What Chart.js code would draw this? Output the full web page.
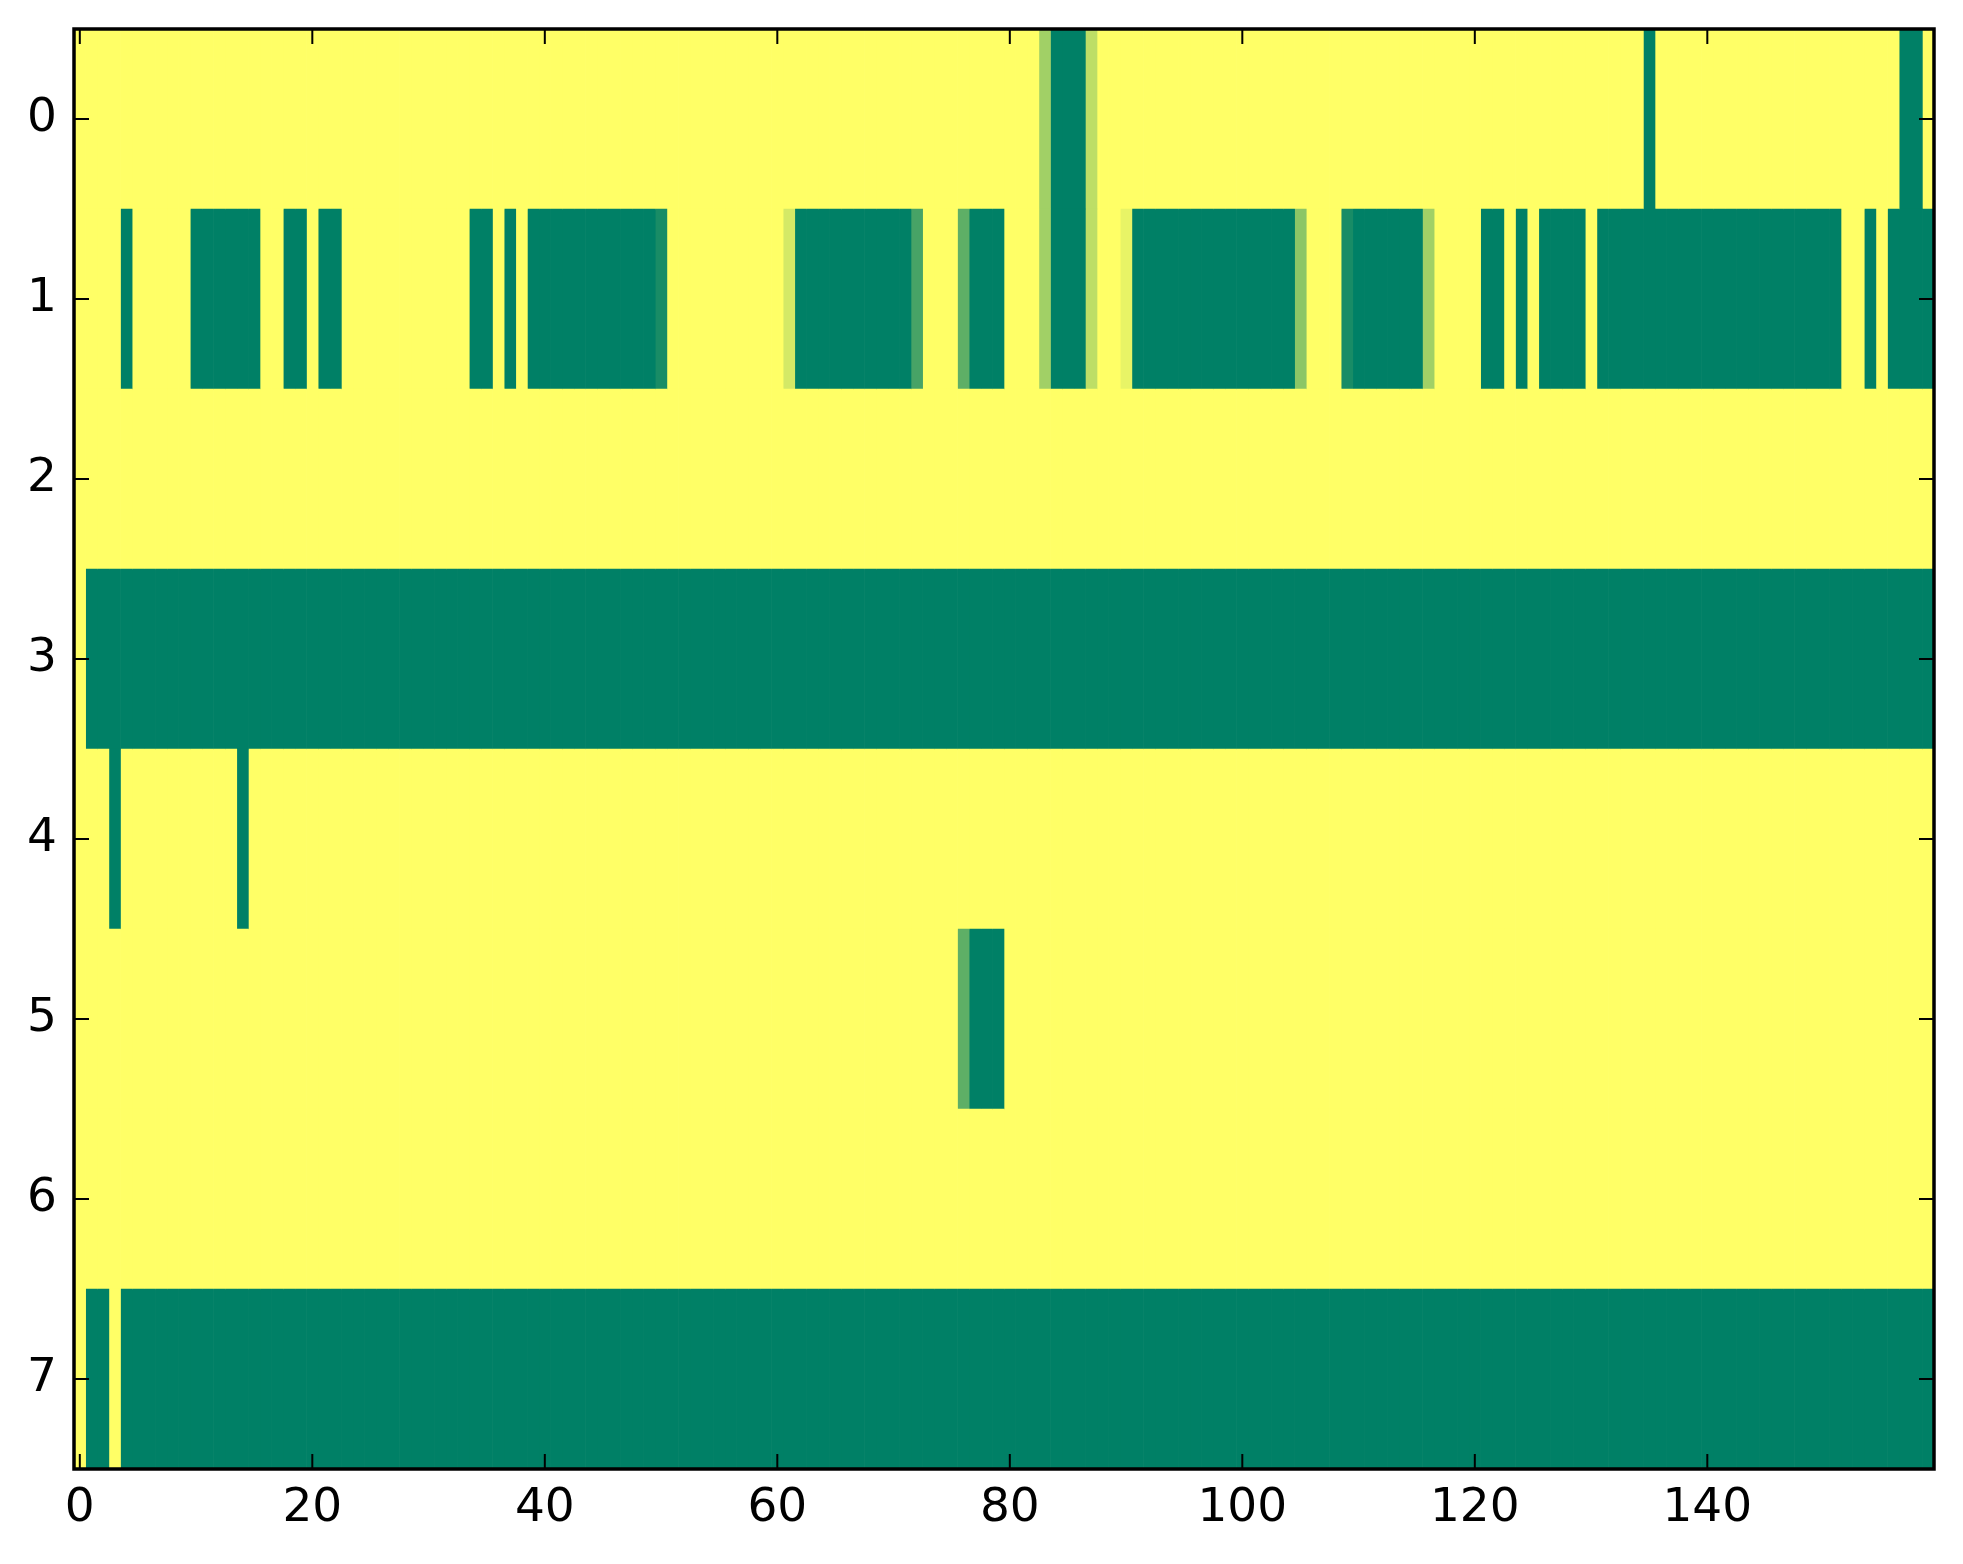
<!DOCTYPE html>
<html><head><meta charset="utf-8">
<script src="https://cdn.jsdelivr.net/npm/chart.js@4.4.1/dist/chart.umd.min.js"></script>
<style>html,body{margin:0;padding:0;background:#fff;}canvas{display:block;}</style>
</head><body>
<canvas id="c" width="1963" height="1564" style="width:1963px;height:1564px"></canvas>
<script>
// Row labels (y axis) and x tick labels
const rowLabels = ['0','1','2','3','4','5','6','7'];
const xTicks = [0,20,40,60,80,100,120,140];

// Cell values per row (160 columns, 0..159)
const row0 = [
0,0,0,0,0,0,0,0,0,0, 0,0,0,0,0,0,0,0,0,0,
0,0,0,0,0,0,0,0,0,0, 0,0,0,0,0,0,0,0,0,0,
0,0,0,0,0,0,0,0,0,0, 0,0,0,0,0,0,0,0,0,0,
0,0,0,0,0,0,0,0,0,0, 0,0,0,0,0,0,0,0,0,0,
0,0,0,0.37,1,1,1,0.26,0,0, 0,0,0,0,0,0,0,0,0,0,
0,0,0,0,0,0,0,0,0,0, 0,0,0,0,0,0,0,0,0,0,
0,0,0,0,0,0,0,0,0,0, 0,0,0,0,0,1,0,0,0,0,
0,0,0,0,0,0,0,0,0,0, 0,0,0,0,0,0,0,1,1,0];
const row1 = [
0,0,0,0,1,0,0,0,0,0, 1,1,1,1,1,1,0,0,1,1,
0,1,1,0,0,0,0,0,0,0, 0,0,0,0,1,1,0,1,0,1,
1,1,1,1,1,1,1,1,1,1, 0.9,0,0,0,0,0,0,0,0,0,
0,0.17,1,1,1,1,1,1,1,1, 1,1,0.72,0,0,0,0.63,1,1,1,
0,0,0,0.37,1,1,1,0.26,0,0, 0.09,1,1,1,1,1,1,1,1,1,
1,1,1,1,1,0.45,0,0,0,0.9, 1,1,1,1,1,1,0.37,0,0,0,
0,1,1,0,1,0,1,1,1,1, 0,1,1,1,1,1,1,1,1,1,
1,1,1,1,1,1,1,1,1,1, 1,1,0,0,1,0,1,1,1,1];
const row2 = [
0,0,0,0,0,0,0,0,0,0, 0,0,0,0,0,0,0,0,0,0,
0,0,0,0,0,0,0,0,0,0, 0,0,0,0,0,0,0,0,0,0,
0,0,0,0,0,0,0,0,0,0, 0,0,0,0,0,0,0,0,0,0,
0,0,0,0,0,0,0,0,0,0, 0,0,0,0,0,0,0,0,0,0,
0,0,0,0,0,0,0,0,0,0, 0,0,0,0,0,0,0,0,0,0,
0,0,0,0,0,0,0,0,0,0, 0,0,0,0,0,0,0,0,0,0,
0,0,0,0,0,0,0,0,0,0, 0,0,0,0,0,0,0,0,0,0,
0,0,0,0,0,0,0,0,0,0, 0,0,0,0,0,0,0,0,0,0];
const row3 = [
0,1,1,1,1,1,1,1,1,1, 1,1,1,1,1,1,1,1,1,1,
1,1,1,1,1,1,1,1,1,1, 1,1,1,1,1,1,1,1,1,1,
1,1,1,1,1,1,1,1,1,1, 1,1,1,1,1,1,1,1,1,1,
1,1,1,1,1,1,1,1,1,1, 1,1,1,1,1,1,1,1,1,1,
1,1,1,1,1,1,1,1,1,1, 1,1,1,1,1,1,1,1,1,1,
1,1,1,1,1,1,1,1,1,1, 1,1,1,1,1,1,1,1,1,1,
1,1,1,1,1,1,1,1,1,1, 1,1,1,1,1,1,1,1,1,1,
1,1,1,1,1,1,1,1,1,1, 1,1,1,1,1,1,1,1,1,1];
const row4 = [
0,0,0,1,0,0,0,0,0,0, 0,0,0,0,1,0,0,0,0,0,
0,0,0,0,0,0,0,0,0,0, 0,0,0,0,0,0,0,0,0,0,
0,0,0,0,0,0,0,0,0,0, 0,0,0,0,0,0,0,0,0,0,
0,0,0,0,0,0,0,0,0,0, 0,0,0,0,0,0,0,0,0,0,
0,0,0,0,0,0,0,0,0,0, 0,0,0,0,0,0,0,0,0,0,
0,0,0,0,0,0,0,0,0,0, 0,0,0,0,0,0,0,0,0,0,
0,0,0,0,0,0,0,0,0,0, 0,0,0,0,0,0,0,0,0,0,
0,0,0,0,0,0,0,0,0,0, 0,0,0,0,0,0,0,0,0,0];
const row5 = [
0,0,0,0,0,0,0,0,0,0, 0,0,0,0,0,0,0,0,0,0,
0,0,0,0,0,0,0,0,0,0, 0,0,0,0,0,0,0,0,0,0,
0,0,0,0,0,0,0,0,0,0, 0,0,0,0,0,0,0,0,0,0,
0,0,0,0,0,0,0,0,0,0, 0,0,0,0,0,0,0.63,1,1,1,
0,0,0,0,0,0,0,0,0,0, 0,0,0,0,0,0,0,0,0,0,
0,0,0,0,0,0,0,0,0,0, 0,0,0,0,0,0,0,0,0,0,
0,0,0,0,0,0,0,0,0,0, 0,0,0,0,0,0,0,0,0,0,
0,0,0,0,0,0,0,0,0,0, 0,0,0,0,0,0,0,0,0,0];
const row6 = [
0,0,0,0,0,0,0,0,0,0, 0,0,0,0,0,0,0,0,0,0,
0,0,0,0,0,0,0,0,0,0, 0,0,0,0,0,0,0,0,0,0,
0,0,0,0,0,0,0,0,0,0, 0,0,0,0,0,0,0,0,0,0,
0,0,0,0,0,0,0,0,0,0, 0,0,0,0,0,0,0,0,0,0,
0,0,0,0,0,0,0,0,0,0, 0,0,0,0,0,0,0,0,0,0,
0,0,0,0,0,0,0,0,0,0, 0,0,0,0,0,0,0,0,0,0,
0,0,0,0,0,0,0,0,0,0, 0,0,0,0,0,0,0,0,0,0,
0,0,0,0,0,0,0,0,0,0, 0,0,0,0,0,0,0,0,0,0];
const row7 = [
0,1,1,0,1,1,1,1,1,1, 1,1,1,1,1,1,1,1,1,1,
1,1,1,1,1,1,1,1,1,1, 1,1,1,1,1,1,1,1,1,1,
1,1,1,1,1,1,1,1,1,1, 1,1,1,1,1,1,1,1,1,1,
1,1,1,1,1,1,1,1,1,1, 1,1,1,1,1,1,1,1,1,1,
1,1,1,1,1,1,1,1,1,1, 1,1,1,1,1,1,1,1,1,1,
1,1,1,1,1,1,1,1,1,1, 1,1,1,1,1,1,1,1,1,1,
1,1,1,1,1,1,1,1,1,1, 1,1,1,1,1,1,1,1,1,1,
1,1,1,1,1,1,1,1,1,1, 1,1,1,1,1,1,1,1,1,1];

const rows = [row0,row1,row2,row3,row4,row5,row6,row7];
const nCols = row0.length;

// summer_r colormap: 0 -> yellow, 1 -> dark green
function summerR(v){
  const t = 1 - v;
  const r = Math.round(255*t), g = Math.round(255*(0.5+0.5*t)), b = Math.round(255*0.4);
  return 'rgb('+r+','+g+','+b+')';
}

const datasets = [];
for (let j = 0; j < nCols; j++) {
  datasets.push({
    data: rows.map(() => [j - 0.5, j + 0.5]),
    backgroundColor: rows.map(r => summerR(r[j])),
    borderWidth: 0
  });
}

const frameTicks = {
  id: 'frameTicks',
  afterDraw(chart) {
    const {ctx, chartArea: a, scales: {x, y}} = chart;
    ctx.save();
    ctx.strokeStyle = '#000';
    ctx.lineWidth = 2;
    const L = 15;
    ctx.beginPath();
    x.ticks.forEach(t => {
      const px = x.getPixelForValue(t.value);
      ctx.moveTo(px, a.bottom); ctx.lineTo(px, a.bottom - L);
      ctx.moveTo(px, a.top); ctx.lineTo(px, a.top + L);
    });
    y.ticks.forEach((t, i) => {
      const py = y.getPixelForTick(i);
      ctx.moveTo(a.left, py); ctx.lineTo(a.left + L, py);
      ctx.moveTo(a.right, py); ctx.lineTo(a.right - L, py);
    });
    ctx.stroke();
    ctx.lineWidth = 3.5;
    ctx.strokeRect(a.left, a.top, a.right - a.left, a.bottom - a.top);
    ctx.restore();
  }
};

const font = {family: 'DejaVu Sans', size: 47};

new Chart(document.getElementById('c'), {
  type: 'bar',
  data: {labels: rowLabels, datasets},
  options: {
    responsive: false,
    animation: false,
    devicePixelRatio: 1,
    indexAxis: 'y',
    layout: {padding: {top: 29, right: 29, left: 0, bottom: 0}},
    plugins: {legend: {display: false}, tooltip: {enabled: false}, title: {display: false}},
    datasets: {bar: {grouped: false, barPercentage: 1, categoryPercentage: 1, borderWidth: 0}},
    scales: {
      x: {
        type: 'linear', min: -0.5, max: 159.5,
        grid: {display: false, drawTicks: false},
        border: {display: false},
        afterBuildTicks(s) { s.ticks = xTicks.map(v => ({value: v})); },
        afterFit(s) { s.height = 95; s.paddingLeft = 0; s.paddingRight = 0; },
        ticks: {font, color: '#000', padding: 12, maxRotation: 0, autoSkip: false}
      },
      y: {
        type: 'category', offset: true,
        grid: {display: false, drawTicks: false},
        border: {display: false},
        afterFit(s) { s.width = 74; s.paddingTop = 0; s.paddingBottom = 0; },
        ticks: {font, color: '#000', padding: 17}
      }
    }
  },
  plugins: [frameTicks]
});
</script>
</body></html>
